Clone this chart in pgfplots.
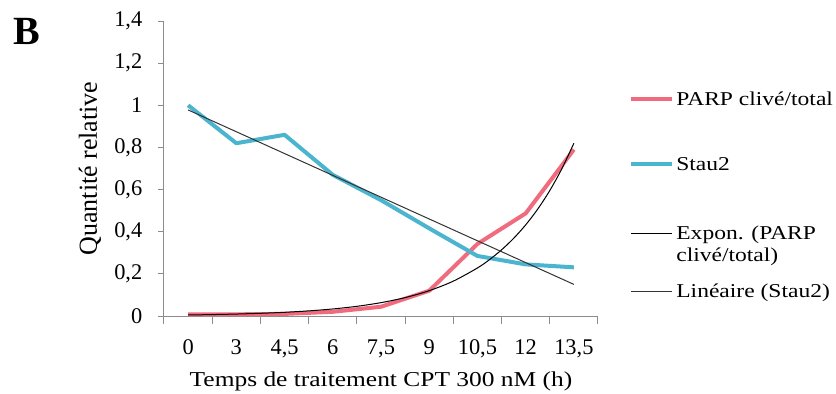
\documentclass[border=0pt]{standalone}
\usepackage{pgfplots}
\pgfplotsset{compat=1.18}
\usepackage{fontspec}
\setmainfont{Liberation Serif}
\newfontfamily\widefont{Liberation Serif}[FakeStretch=1.2]
\definecolor{parp}{HTML}{F06B7E}
\definecolor{stau}{HTML}{4BB4CF}
\definecolor{axgray}{HTML}{8C8C8C}
\newcommand{\legtxt}[3]{\rule[-#2pt]{0pt}{\dimexpr #1pt+#2pt\relax}\smash{#3}}
\begin{document}
\fontsize{11}{13}\selectfont
\begin{tikzpicture}
\useasboundingbox (-82pt,-38.5pt) rectangle (336pt,158pt);
\begin{axis}[
  at={(0,0)}, anchor=south west,
  scale only axis, width=217pt, height=147.5pt,
  xmin=-0.5, xmax=8.5, ymin=0, ymax=1.4,
  axis x line*=bottom, axis y line*=left,
  axis line style={axgray, line width=0.5pt},
  xtick={0,...,8},
  xticklabels={0,3,{4,5},6,{7,5},9,{10,5},12,{13,5}},
  minor xtick={-0.5,0.5,...,8.5},
  major x tick style={draw=none},
  minor x tick style={axgray, line width=0.5pt},
  minor tick length=4pt,
  ytick={0,0.2,...,1.4},
  yticklabels={0,{0,2},{0,4},{0,6},{0,8},1,{1,2},{1,4}},
  major tick length=3pt,
  y tick style={axgray, line width=0.5pt},
  tick align=outside,
  tick label style={font=\fontsize{11.2}{13}\selectfont},
  xticklabel style={yshift=-5pt},
  yticklabel style={xshift=-4pt},
  xlabel={Temps de traitement CPT 300 nM (h)},
  ylabel={Quantité relative},
  xlabel style={font=\widefont\fontsize{10.6}{13}\selectfont, at={(rel axis cs:0.5,0)}, anchor=center, yshift=-32.5pt},
  ylabel style={font=\fontsize{13}{15}\selectfont, at={(rel axis cs:0,0.5)}, anchor=center, yshift=37pt},
  clip=false,
  legend style={draw=none, fill=none, at={(rel axis cs:1.0714,0.771)}, anchor=north west,
    font=\widefont\fontsize{9.8}{12}\selectfont, row sep=0pt, inner sep=0pt,
    nodes={inner ysep=0pt, inner xsep=1pt, text depth=, text height=}},
  legend cell align=left,
  legend image code/.code={\draw[#1] (0pt,0pt) -- (20.5pt,0pt);},
]
\addplot[parp, line width=2pt, line join=round] coordinates {
 (0,0.008) (1,0.008) (2,0.010) (3,0.020) (4,0.044) (5,0.12) (6,0.342) (7,0.487) (8,0.79)};
\addlegendentry{\legtxt{8.3}{1.9}{PARP clivé/total}}
\addplot[stau, line width=2pt, line join=round] coordinates {
 (0,1.0) (1,0.82) (2,0.86) (3,0.67) (4,0.55) (5,0.416) (6,0.285) (7,0.245) (8,0.231)};
\addlegendentry{\legtxt{30.6}{24.2}{Stau2}}
\addplot[black, line width=0.5pt, smooth] coordinates {
 (0,0.0049) (0.5,0.00675) (1,0.00929) (1.5,0.0128) (2,0.0176) (2.5,0.0243)
 (3,0.0334) (3.5,0.0460) (4,0.0634) (4.5,0.0873) (5,0.1202) (5.5,0.1655)
 (6,0.2280) (6.25,0.2675) (6.5,0.3140) (6.75,0.3684) (7,0.4323) (7.25,0.5073)
 (7.5,0.5953) (7.75,0.6986) (8,0.8199)};
\addlegendentry{\legtxt{10.3}{3.9}{Expon. (PARP}}
\addlegendimage{empty legend}
\addlegendentry{\legtxt{7.1}{5}{clivé/total)}}
\addplot[black!80, line width=0.5pt] coordinates {(0,0.978) (8,0.150)};
\addlegendentry{\legtxt{13}{6.6}{Linéaire (Stau2)}}
\end{axis}
\node[anchor=north west, inner sep=0pt, font=\fontsize{20}{24}\selectfont\bfseries] at (-75.5pt,149pt) {B};
\end{tikzpicture}
\end{document}
